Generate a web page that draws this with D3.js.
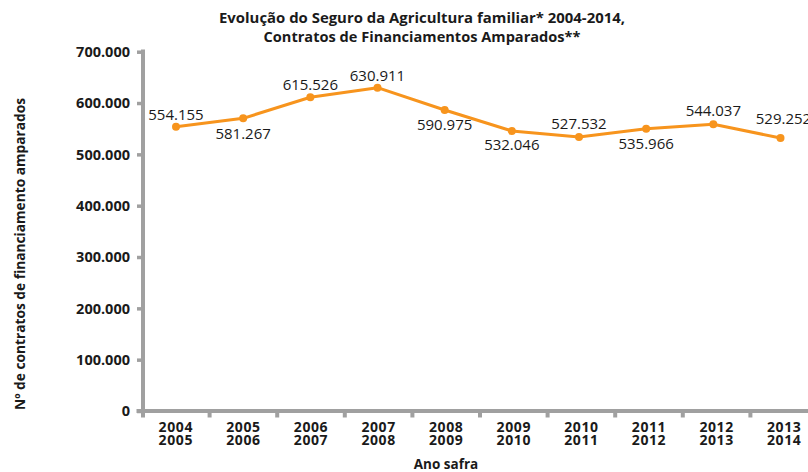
<!DOCTYPE html>
<html>
<head>
<meta charset="utf-8">
<script src="https://cdn.jsdelivr.net/npm/d3@7"></script>
<style>
  body { margin: 0; background: #fff; }
  svg text { font-family: "Open Sans", sans-serif; fill: #1a1a1a; }
  .tick-y { font-weight: 700; font-size: 14.5px; }
  .tick-x { font-weight: 700; font-size: 14px; letter-spacing: 0.6px; }
  .val { font-size: 15px; }
  .ttl { font-weight: 700; font-size: 13.5px; }
</style>
</head>
<body>
<div id="chart"></div>
<script>
// safras (two lines per tick)
var seasonsTop = ["2004","2005","2006","2007","2008","2009","2010","2011","2012","2013"];
var seasonsBottom = ["2005","2006","2007","2008","2009","2010","2011","2012","2013","2014"];
// values as plotted in the picture
var contracts = [553900, 570200, 611200, 629900, 586400, 545500, 533800, 550000, 558600, 531900];
// printed data labels
var labels = ["554.155","581.267","615.526","630.911","590.975","532.046","527.532","535.966","544.037","529.252"];
var yTicks = [0, 100000, 200000, 300000, 400000, 500000, 600000, 700000];

var titleLines = ["Evolução do Seguro da Agricultura familiar* 2004-2014,", "Contratos de Financiamentos Amparados**"];
var yTitle = "Nº de contratos de financiamento amparados";
var xTitle = "Ano safra";

var width = 808, height = 472;
var axisColor = "#a0a0a0", lineColor = "#f7941d";

// label placement: above (-) or below (+) the point
var labelDy = [-7, 21, -7, -7, 20, 19, -8, 20, -8, -14];

var svg = d3.select("#chart").append("svg").attr("width", width).attr("height", height);

var x = d3.scaleBand().domain(seasonsTop).range([142, 818]);
var xp = d3.scalePoint().domain(seasonsTop).range([176, 780.5]);
var y = d3.scaleLinear().domain([0, 700000]).range([411, 51.7]);

var ptBR = d3.formatLocale({decimal: ",", thousands: ".", grouping: [3], currency: ["R$", ""]});
var fmt = ptBR.format(",d");

// title
svg.selectAll(".title").data(titleLines).enter().append("text")
  .attr("class", "ttl")
  .attr("text-anchor", "middle")
  .attr("x", 422)
  .attr("y", function(d, i) { return 22.7 + i * 19; })
  .attr("textLength", function(d, i) { return i === 0 ? 406 : 317; })
  .attr("lengthAdjust", "spacingAndGlyphs")
  .text(function(d) { return d; });

// y axis
var yAxis = svg.append("g")
  .attr("transform", "translate(143,0)")
  .call(d3.axisLeft(y).tickValues(yTicks).tickFormat(fmt).tickSize(6).tickPadding(7));
yAxis.select(".domain").remove();
yAxis.selectAll(".tick line").attr("stroke", axisColor).attr("stroke-width", 3.5);
yAxis.selectAll(".tick text").attr("class", "tick-y").attr("fill", "#1a1a1a").attr("dy", "0.34em");

// x axis ticks at band boundaries
var xAxis = svg.append("g");
xAxis.selectAll("line.xt").data(seasonsTop.slice(1)).enter().append("line")
  .attr("x1", function(d) { return x(d); })
  .attr("x2", function(d) { return x(d); })
  .attr("y1", y(0)).attr("y2", y(0) + 6.5)
  .attr("stroke", axisColor).attr("stroke-width", 4);

var xl = xAxis.selectAll("text.xl").data(seasonsTop).enter().append("text")
  .attr("class", "tick-x")
  .attr("text-anchor", "middle")
  .attr("x", function(d) { return x(d) + x.bandwidth() / 2; })
  .attr("y", 432.3);
xl.append("tspan").text(function(d) { return d; });
xl.append("tspan")
  .attr("x", function(d) { return x(d) + x.bandwidth() / 2; })
  .attr("dy", 12.7)
  .text(function(d, i) { return seasonsBottom[i]; });

// axis lines
svg.append("line")
  .attr("x1", 143).attr("x2", 143)
  .attr("y1", y(700000) - 2.2).attr("y2", y(0) + 6.5)
  .attr("stroke", axisColor).attr("stroke-width", 4);
svg.append("line")
  .attr("x1", 136.5).attr("x2", width)
  .attr("y1", y(0)).attr("y2", y(0))
  .attr("stroke", axisColor).attr("stroke-width", 4);

// axis titles
svg.append("text")
  .attr("class", "ttl")
  .attr("text-anchor", "middle")
  .attr("transform", "translate(25,254) rotate(-90)")
  .attr("textLength", 312)
  .attr("lengthAdjust", "spacingAndGlyphs")
  .text(yTitle);
svg.append("text")
  .attr("class", "ttl")
  .attr("font-size", "14px")
  .attr("text-anchor", "middle")
  .attr("x", 446).attr("y", 469)
  .text(xTitle);

// line
var line = d3.line()
  .x(function(d, i) { return xp(seasonsTop[i]); })
  .y(function(d) { return y(d); });

svg.append("path")
  .datum(contracts)
  .attr("d", line)
  .attr("fill", "none")
  .attr("stroke", lineColor)
  .attr("stroke-width", 3)
  .attr("stroke-linejoin", "round");

svg.selectAll(".pt").data(contracts).enter().append("circle")
  .attr("cx", function(d, i) { return xp(seasonsTop[i]); })
  .attr("cy", function(d) { return y(d); })
  .attr("r", 4)
  .attr("fill", lineColor);

svg.selectAll(".val").data(contracts).enter().append("text")
  .attr("class", "val")
  .attr("text-anchor", "middle")
  .attr("x", function(d, i) { return xp(seasonsTop[i]) + (i === 9 ? 3 : 0); })
  .attr("y", function(d, i) { return y(d) + labelDy[i]; })
  .text(function(d, i) { return labels[i]; });
</script>
</body>
</html>
